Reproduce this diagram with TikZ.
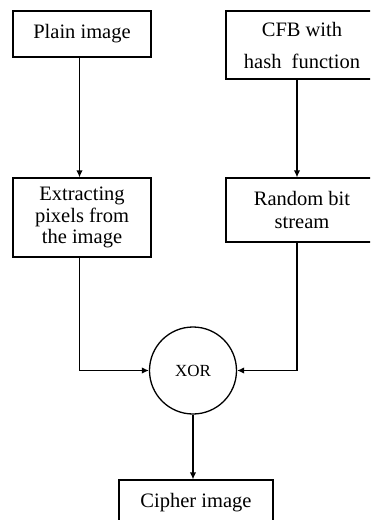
\documentclass[tikz,border=0pt]{standalone}
\usepackage{fontspec}
\setmainfont{Liberation Serif}
\usetikzlibrary{arrows.meta}
\begin{document}
\begin{tikzpicture}[x=1pt,y=-1pt,
  box/.style={draw, line width=1.3pt, inner sep=0pt, align=center, font=\fontsize{20.5}{22}\selectfont},
  conn/.style={line width=1.3pt},
  arr/.style={conn, -{Latex[length=7pt,width=6.5pt]}}]
\useasboundingbox (0,0) rectangle (370,520);
\clip (0,0) rectangle (370,520);
\node[box, minimum width=138pt, minimum height=46pt] (plain) at (82,34) {Plain image};
\node[box, minimum width=152pt, minimum height=68pt, font=\fontsize{20.5}{32}\selectfont] (cfb) at (302,45) {CFB with\\hash\ \ function};
\node[box, minimum width=138pt, minimum height=79pt, font=\fontsize{20.5}{21.5}\selectfont] (extract) at (82,217.5) {Extracting\\pixels from\\the image};
\node[box, minimum width=152pt, minimum height=64pt, font=\fontsize{20.5}{23.5}\selectfont] (random) at (302,210) {Random bit\\stream};
\node[draw, circle, line width=1.3pt, minimum size=87pt, inner sep=0pt, font=\fontsize{17}{19}\selectfont] (xor) at (193,370.5) {XOR};
\node[box, minimum width=154pt, minimum height=46pt] (cipher) at (196,503) {Cipher image};
\draw[arr] ([xshift=-2.5pt]plain.south) -- ([xshift=-2.5pt]extract.north);
\draw[arr] ([xshift=-5pt]cfb.south) -- ([xshift=-5pt]random.north);
\draw[arr] ([xshift=-2.5pt]extract.south) |- (xor.west);
\draw[arr] ([xshift=-5pt]random.south) |- (xor.east);
\draw[arr] (xor.south) -- (xor.south |- cipher.north);
\end{tikzpicture}
\end{document}
